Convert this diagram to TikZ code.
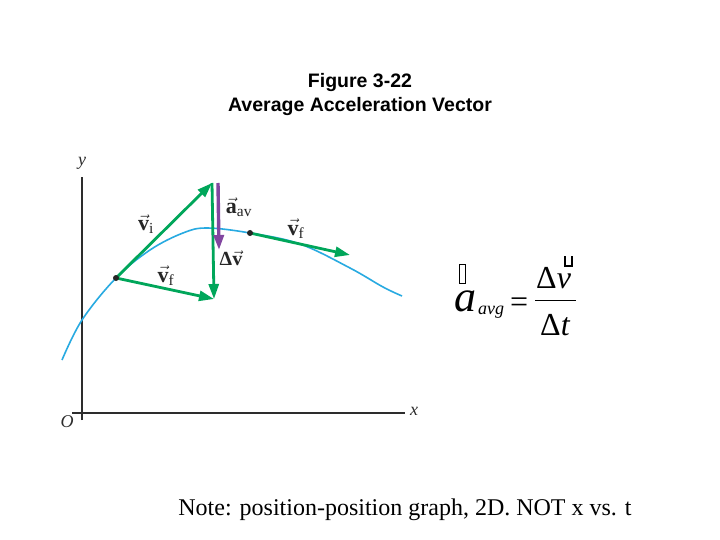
\documentclass[tikz,border=0pt]{standalone}
\usepackage{fontspec}
\setmainfont{Liberation Serif}
\newfontfamily\arialf{Liberation Sans}
\usetikzlibrary{arrows.meta}
\definecolor{vgreen}{RGB}{0,166,90}
\definecolor{cblue}{RGB}{40,170,225}
\definecolor{apurple}{RGB}{130,70,160}
\definecolor{axisgray}{RGB}{45,45,45}
\begin{document}
\begin{tikzpicture}[x=1pt,y=-1pt,
  vecarrow/.style={vgreen, line width=2.8pt, -{Triangle[length=15pt,width=10pt]}},
  accarrow/.style={apurple, line width=3.4pt, -{Triangle[length=15pt,width=10pt]}},
  axisline/.style={axisgray, line width=2pt},
  axislabel/.style={font=\fontsize{18}{18}\selectfont\itshape, inner sep=0pt, text=axisgray},
  veclabel/.style={font=\fontsize{22}{22}\selectfont, inner sep=0pt, text=black!85},
  dot/.style={circle, fill=black!85, inner sep=0pt, minimum size=6pt},
  eqtext/.style={inner sep=0pt, anchor=base west}
]
\useasboundingbox (0,0) rectangle (720,540);
\fill[white] (0,0) rectangle (720,540);

% title
\node[font=\arialf\bfseries\fontsize{19.5}{24}\selectfont, align=center, inner sep=0pt] (title) at (360,95)
  {Figure 3-22\\Average Acceleration Vector};

% axes
\coordinate (ytop) at (82,177);
\coordinate (ybot) at (82,420);
\coordinate (xleft) at (72,413);
\coordinate (xright) at (405,413);
\draw[axisline] (ybot) -- (ytop);
\draw[axisline] (xleft) -- (xright);
\node[axislabel] (ylab) at (82,163) {y};
\node[axislabel] (xlab) at (414,411) {x};
\node[axislabel] (olab) at (67,422) {O};

% trajectory
\draw[cblue, line width=1.6pt] plot[smooth, tension=0.6] coordinates
  {(62,360) (82,320) (116,278) (150,250) (183,233) (207,228) (250,233) (300,244) (350,268) (383,287) (402,296)};

% points
\coordinate (p1) at (116,278);
\coordinate (p2) at (250,233);
\coordinate (top) at (212,183);
\coordinate (bot) at (214,299);
\coordinate (vfend) at (350,255);
\coordinate (aa) at (218,183);
\coordinate (ab) at (219,250);

\draw[vecarrow] (p1) -- (top);
\draw[vecarrow] (p1) -- (bot);
\draw[vecarrow] (top) -- (bot);
\draw[vecarrow] (p2) -- (vfend);
\draw[accarrow] (aa) -- (ab);

\node[dot] (d1) at (p1) {};
\node[dot] (d2) at (p2) {};

% vector labels
\node[veclabel] (lvi) at (146,224) {$\vec{\mathbf{v}}_{\mathrm{i}}$};
\node[veclabel] (lvf1) at (166,276) {$\vec{\mathbf{v}}_{\mathrm{f}}$};
\node[veclabel] (lvf2) at (296,229) {$\vec{\mathbf{v}}_{\mathrm{f}}$};
\node[veclabel] (laav) at (239,207) {$\vec{\mathbf{a}}_{\mathrm{av}}$};
\node[veclabel, font=\fontsize{20}{20}\selectfont] (ldv) at (231,258) {\textbf{Δ}$\vec{\mathbf{v}}$};

% formula
\node[eqtext, font=\fontsize{44}{44}\selectfont\itshape] (ea) at (454,311) {a};
\node[eqtext, font=\fontsize{18}{18}\selectfont\itshape] (eavg) at (478,314) {avg};
\node[eqtext, font=\fontsize{32}{32}\selectfont] (eeq) at (510,312) {=};
\draw[line width=1pt] (535,300) -- (576,300);
\node[eqtext, font=\fontsize{32}{32}\selectfont] (edv) at (536,288) {Δ\textit{v}};
\node[eqtext, font=\fontsize{32}{32}\selectfont] (edt) at (540,335) {Δ\textit{t}};
\draw[line width=0.9pt] (459,264) rectangle (465,283);
\draw[line width=1.3pt] (565,256) -- (565,266) -- (572,266) -- (572,256);

% note
\node[font=\fontsize{24}{24}\selectfont, inner sep=0pt] (note) at (405,510)
  {Note: position-position graph, 2D. NOT x vs. t};
\end{tikzpicture}
\end{document}
